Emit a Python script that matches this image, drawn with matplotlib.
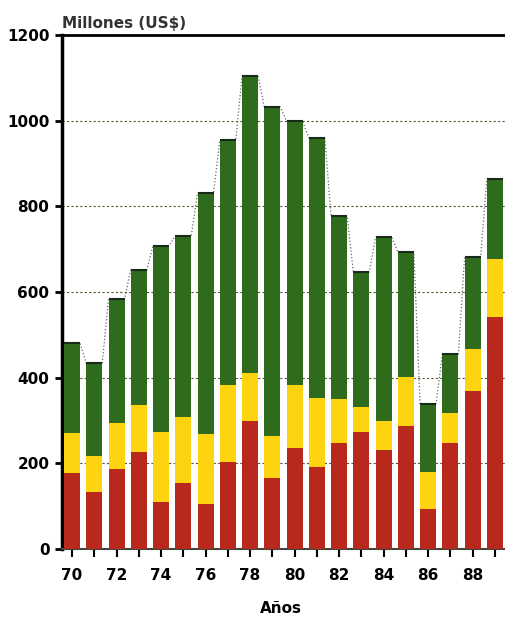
import numpy as np
import matplotlib
matplotlib.use('Agg')
import matplotlib.pyplot as plt

#-----------------------------------------------------------------------------------------------------------------------
# Data
#-----------------------------------------------------------------------------------------------------------------------
years = np.arange(70, 90)
red_top = [177, 133, 187, 226, 110, 154, 105, 203, 299, 166,
           236, 192, 247, 273, 231, 287, 93, 247, 369, 542]
yellow_top = [271, 217, 294, 336, 273, 308, 269, 383, 411, 264,
              383, 353, 350, 332, 299, 402, 180, 318, 467, 676]
total = [481, 434, 584, 651, 708, 731, 831, 955, 1104, 1032,
         999, 960, 778, 647, 728, 694, 339, 455, 682, 864]
tick_labels = ['70', '72', '74', '76', '78', '80', '82', '84', '86', '88']

red = np.array(red_top)
yellow = np.array(yellow_top) - red
green = np.array(total) - np.array(yellow_top)

#-----------------------------------------------------------------------------------------------------------------------
# Plot
#-----------------------------------------------------------------------------------------------------------------------
plt.rcParams['font.family'] = ['DejaVu Sans']
fig = plt.figure(figsize=(5.06, 6.22), dpi=100)
ax = fig.add_axes([0.1225, 0.1174, 0.8775, 0.8263])

w = 0.72
ax.bar(years, red, width=w, color='#b8281c', zorder=3)
ax.bar(years, yellow, width=w, bottom=red, color='#fdd40f', zorder=3)
ax.bar(years, green, width=w, bottom=red + yellow, color='#2f6b1c', zorder=3)
# dark top edge of each bar
ax.hlines(total, years - w / 2, years + w / 2, color='#1a2a1a', lw=1.5, zorder=4)

# dotted line linking the bar tops
xs = np.ravel(np.column_stack([years - w / 2, years + w / 2]))
ys = np.ravel(np.column_stack([total, total]))
ax.plot(xs, ys, ls=':', color='#666666', lw=0.9, zorder=2)

ax.set_xlim(69.55, 89.5)
ax.set_ylim(0, 1200)
ax.set_yticks(np.arange(0, 1201, 200))
ax.set_yticklabels([str(v) for v in range(0, 1201, 200)], fontsize=11, fontweight='bold')
ax.set_xticks(years)
ax.set_xticklabels([lbl if i % 2 == 0 else '' for i, lbl in
                    enumerate([str(y) for y in years])], fontsize=11, fontweight='bold')
ax.tick_params(axis='x', direction='out', length=6, width=1.5, pad=8)
ax.tick_params(axis='y', direction='out', length=5, width=2, pad=4)

for y in range(200, 1200, 200):
    ax.axhline(y, color='#555533', ls=(0, (2, 2)), lw=0.8, zorder=1)

ax.spines['right'].set_visible(False)
ax.spines['left'].set_linewidth(2.5)
ax.spines['top'].set_linewidth(2)
ax.spines['bottom'].set_linewidth(1.5)
ax.spines['bottom'].set_color('#444444')

fig.text(0.123, 0.962, 'Millones (US$)', fontsize=11, fontweight='bold', color='#333333',
         ha='left', va='center')
fig.text(0.555, 0.022, 'Años', fontsize=11, fontweight='bold', ha='center', va='center')

plt.savefig('out.png', dpi=100)
